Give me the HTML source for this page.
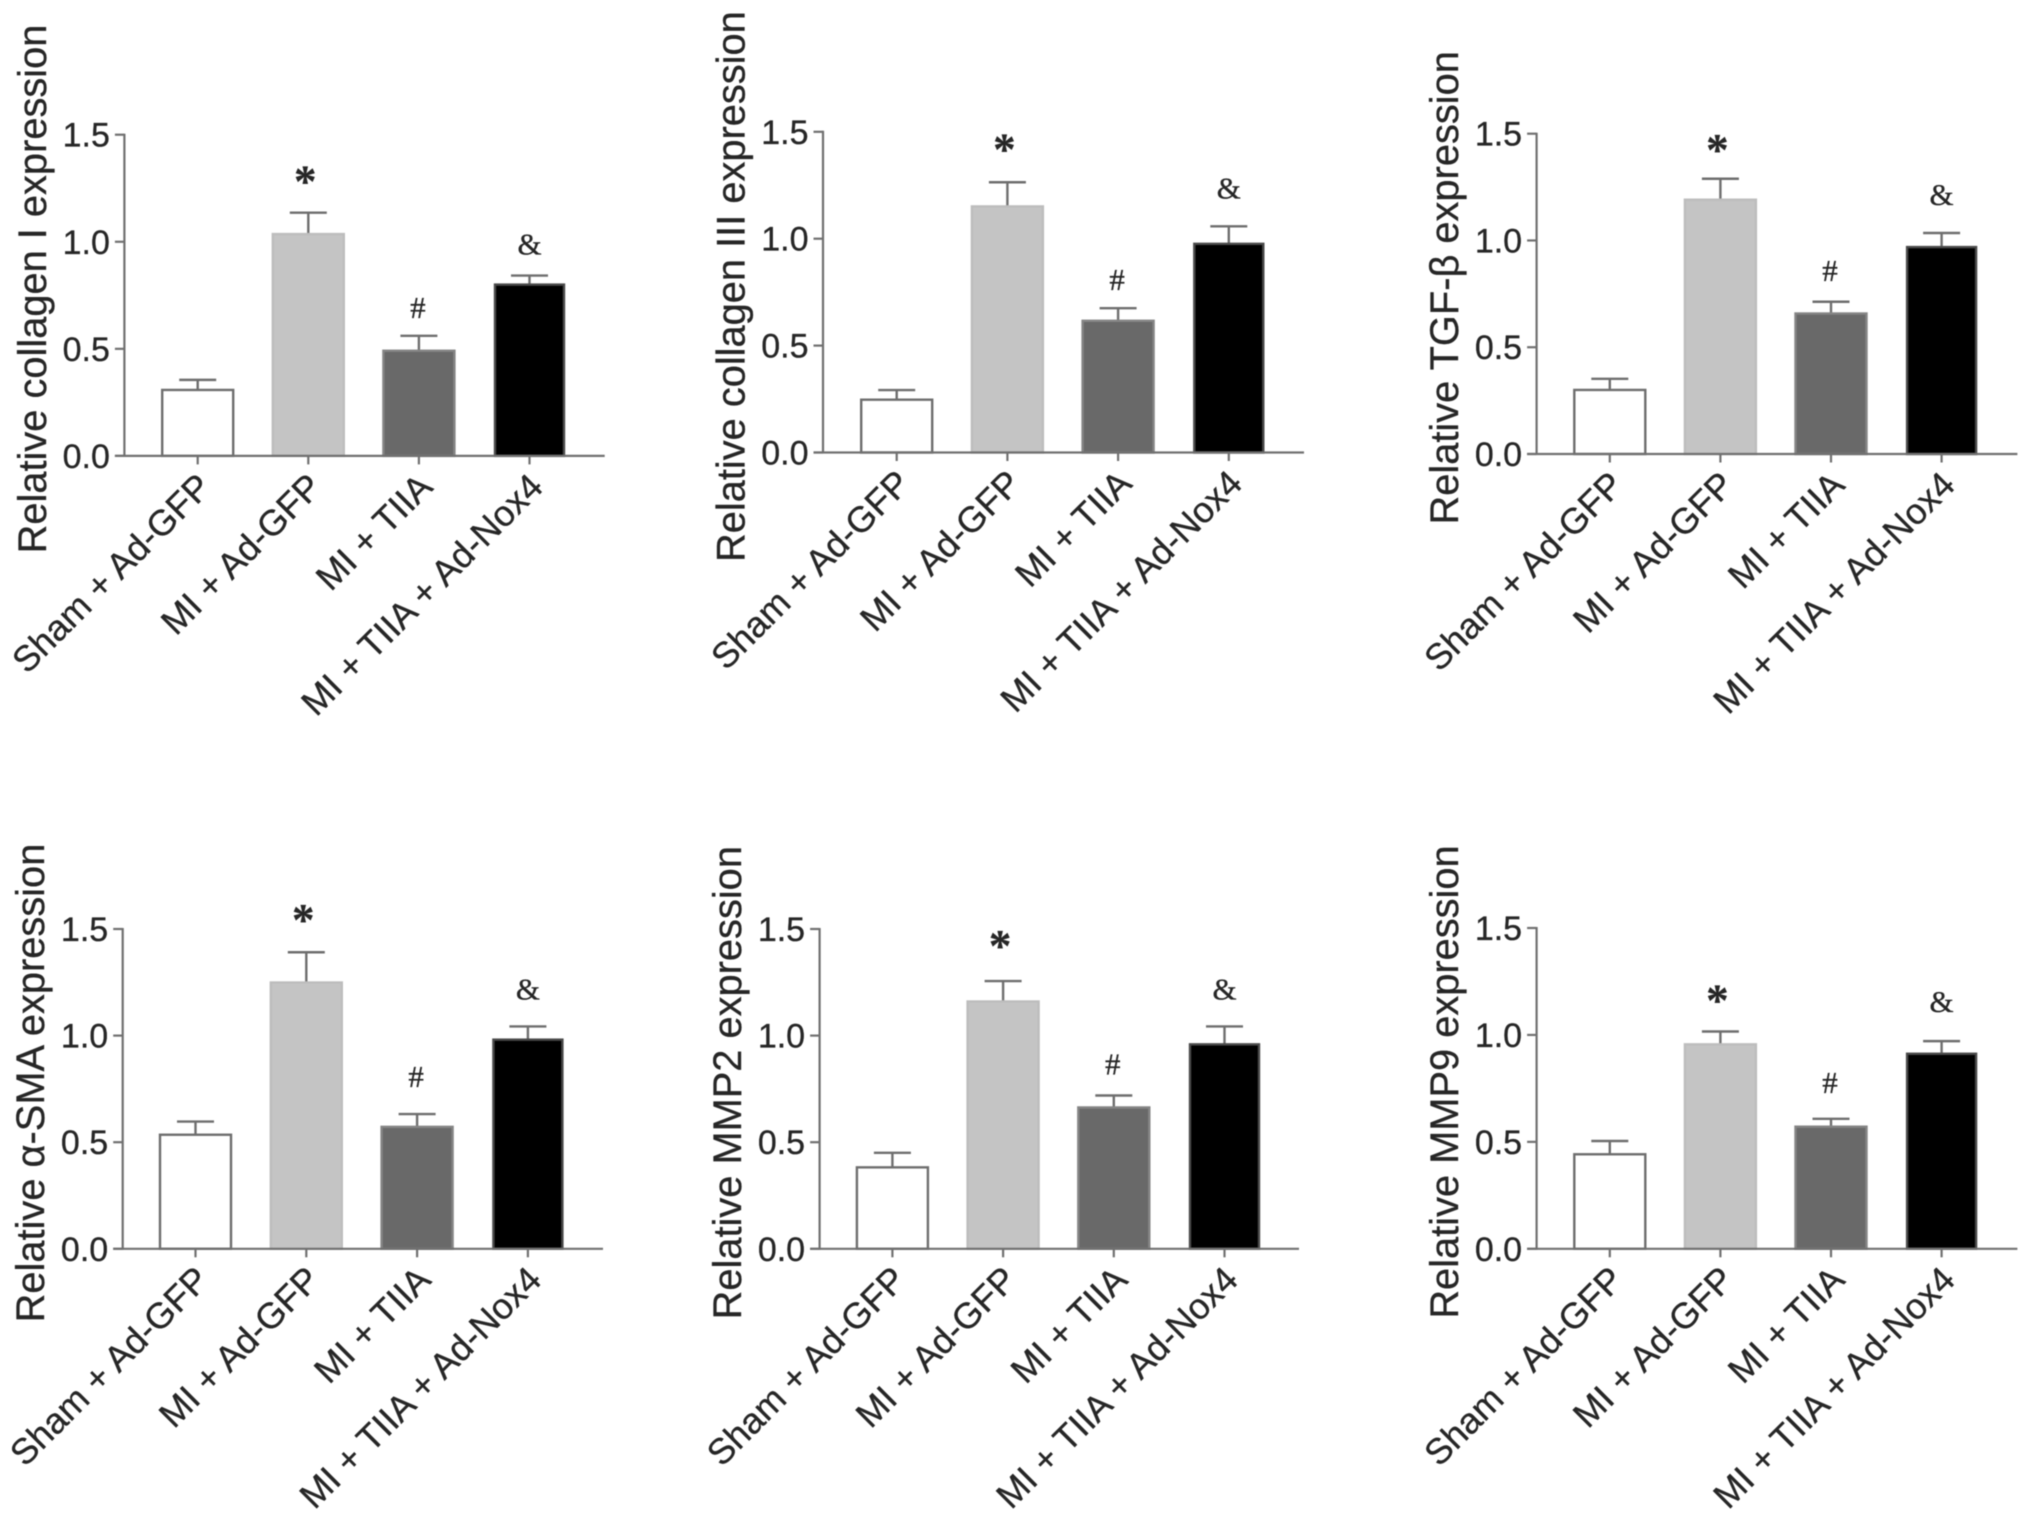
<!DOCTYPE html>
<html lang="en">
<head>
<meta charset="utf-8">
<title>Relative expression bar charts</title>
<style>
html,body{margin:0;padding:0;background:#fff;}
body{width:2031px;height:1522px;overflow:hidden;}
svg{display:block;filter:blur(0.45px);}
text{font-family:"Liberation Sans",Arial,sans-serif;fill:#262626;stroke:#262626;stroke-width:0.3px;}
</style>
</head>
<body>
<svg id="figure" xmlns="http://www.w3.org/2000/svg" width="2031" height="1522" viewBox="0 0 2031 1522"></svg>
<script>
const categories = ["Sham + Ad-GFP", "MI + Ad-GFP", "MI + TIIA", "MI + TIIA + Ad-Nox4"];
const yTickLabels = ["0.0", "0.5", "1.0", "1.5"];
const yTickValues = [0, 0.5, 1.0, 1.5];
const markers = ["*", "#", "&"];

const collagen1Means = [0.308, 1.036, 0.491, 0.80];
const collagen1Upper = [0.355, 1.136, 0.561, 0.842];
const collagen3Means = [0.247, 1.151, 0.616, 0.976];
const collagen3Upper = [0.292, 1.264, 0.675, 1.058];
const tgfbMeans = [0.30, 1.191, 0.658, 0.969];
const tgfbUpper = [0.352, 1.289, 0.713, 1.035];
const smaMeans = [0.535, 1.249, 0.572, 0.981];
const smaUpper = [0.597, 1.391, 0.632, 1.043];
const mmp2Means = [0.382, 1.16, 0.663, 0.959];
const mmp2Upper = [0.45, 1.256, 0.719, 1.043];
const mmp9Means = [0.442, 0.956, 0.571, 0.912];
const mmp9Upper = [0.504, 1.016, 0.608, 0.971];

const panels = [
  {title:"Relative collagen I expression", means:collagen1Means, upper:collagen1Upper,
   ax:124.4, top:134.7, base:455.9, right:604.7, first:197.7, step:110.6, titleY:289, gaps:[36,28,31]},
  {title:"Relative collagen III expression", means:collagen3Means, upper:collagen3Upper,
   ax:823, top:131.8, base:452.5, right:1304, first:896.7, step:110.7, titleY:286.6, gaps:[38,28,38]},
  {title:"Relative TGF-\u03b2 expression", means:tgfbMeans, upper:tgfbUpper,
   ax:1536.6, top:133.7, base:454, right:2017.4, first:1609.8, step:110.6, titleY:287.8, gaps:[34,31,38]},
  {title:"Relative \u03b1-SMA expression", means:smaMeans, upper:smaUpper,
   ax:122.7, top:929, base:1248.8, right:603, first:195.5, step:110.8, titleY:1083, gaps:[37,37,37]},
  {title:"Relative MMP2 expression", means:mmp2Means, upper:mmp2Upper,
   ax:819.6, top:929, base:1248.8, right:1299, first:892.4, step:110.7, titleY:1082.7, gaps:[40,31,37]},
  {title:"Relative MMP9 expression", means:mmp9Means, upper:mmp9Upper,
   ax:1536.6, top:928, base:1248.8, right:2017.4, first:1609.8, step:110.6, titleY:1082, gaps:[36,36,39]}
];

const barFills = ["#ffffff", "#c4c4c4", "#696969", "#000000"];
const barStrokes = ["#6e6e6e", "#bdbdbd", "#858585", "#4a4a4a"];
const barWidths = [71, 71, 71, 69];
const AXIS = "#707070";
const NS = "http://www.w3.org/2000/svg";
const figure = document.getElementById("figure");

function make(tag, parent, attrs, content) {
  const el = document.createElementNS(NS, tag);
  for (const k in attrs) el.setAttribute(k, attrs[k]);
  if (content !== undefined) el.textContent = content;
  parent.appendChild(el);
  return el;
}

panels.forEach(function (p) {
  const yScale = function (v) { return p.base - (v / 1.5) * (p.base - p.top); };
  const xScale = function (i) { return p.first + i * p.step; };

  const group = make("g", figure, {});
  
  

  p.means.forEach(function (m, i) {
    const x = xScale(i);
    const errLine = make("line", group, {x1:x, x2:x, y1:yScale(m), y2:yScale(p.upper[i]), stroke:"#6e6e6e", "stroke-width":2.4});
    
    
    const errCap = make("line", group, {x1:x - 18.5, x2:x + 18.5, y1:yScale(p.upper[i]), y2:yScale(p.upper[i]), stroke:"#6e6e6e", "stroke-width":2.4});
    
    
    const w = barWidths[i];
    const bar = make("rect", group, {x:x - w / 2, y:yScale(m), width:w, height:yScale(0) - yScale(m), fill:barFills[i], stroke:barStrokes[i], "stroke-width":2.4});
    
    
  });

  const yAxis = make("line", group, {x1:p.ax, x2:p.ax, y1:p.top - 1, y2:p.base + 1, stroke:AXIS, "stroke-width":2.2});
  
  
  const xAxis = make("line", group, {x1:p.ax - 9.5, x2:p.right, y1:p.base, y2:p.base, stroke:AXIS, "stroke-width":2.2});
  
  

  yTickValues.forEach(function (v, i) {
    const y = yScale(v);
    const tick = make("line", group, {x1:p.ax - 9.5, x2:p.ax, y1:y, y2:y, stroke:AXIS, "stroke-width":2.2});
    
    
    const label = make("text", group, {x:p.ax - 14.5, y:y + 12, "text-anchor":"end", "font-size":34}, yTickLabels[i]);
    
    
  });

  categories.forEach(function (c, i) {
    const x = xScale(i);
    const tick = make("line", group, {x1:x, x2:x, y1:p.base, y2:p.base + 8.5, stroke:AXIS, "stroke-width":2.2});
    
    
    const ax = x + 15.5, ay = p.base + 33;
    const label = make("text", group, {x:ax, y:ay, "text-anchor":"end", "font-size":36, transform:"rotate(-45 " + ax + " " + ay + ")"}, c);
    
    
  });

  const tx = p.ax - 78.5;
  const title = make("text", group, {x:tx, y:p.titleY, "text-anchor":"middle", "font-size":39.8, transform:"rotate(-90 " + tx + " " + p.titleY + ")"}, p.title);
  
  

  markers.forEach(function (s, i) {
    const x = xScale(i + 1) + (i === 0 ? -3 : (i === 2 ? 0 : -1));
    const cy = yScale(p.upper[i + 1]) - p.gaps[i];
    const isStar = s === "*";
    const mark = make("text", group, {
      x:x, y:cy + (isStar ? 20 : 10), "text-anchor":"middle",
      "font-size":isStar ? 45 : 31,
      "font-weight":isStar ? "bold" : "normal",
      style:'font-family:"Liberation Serif","Times New Roman",serif'
    }, s);
    
    
  });
});
</script>
</body>
</html>
